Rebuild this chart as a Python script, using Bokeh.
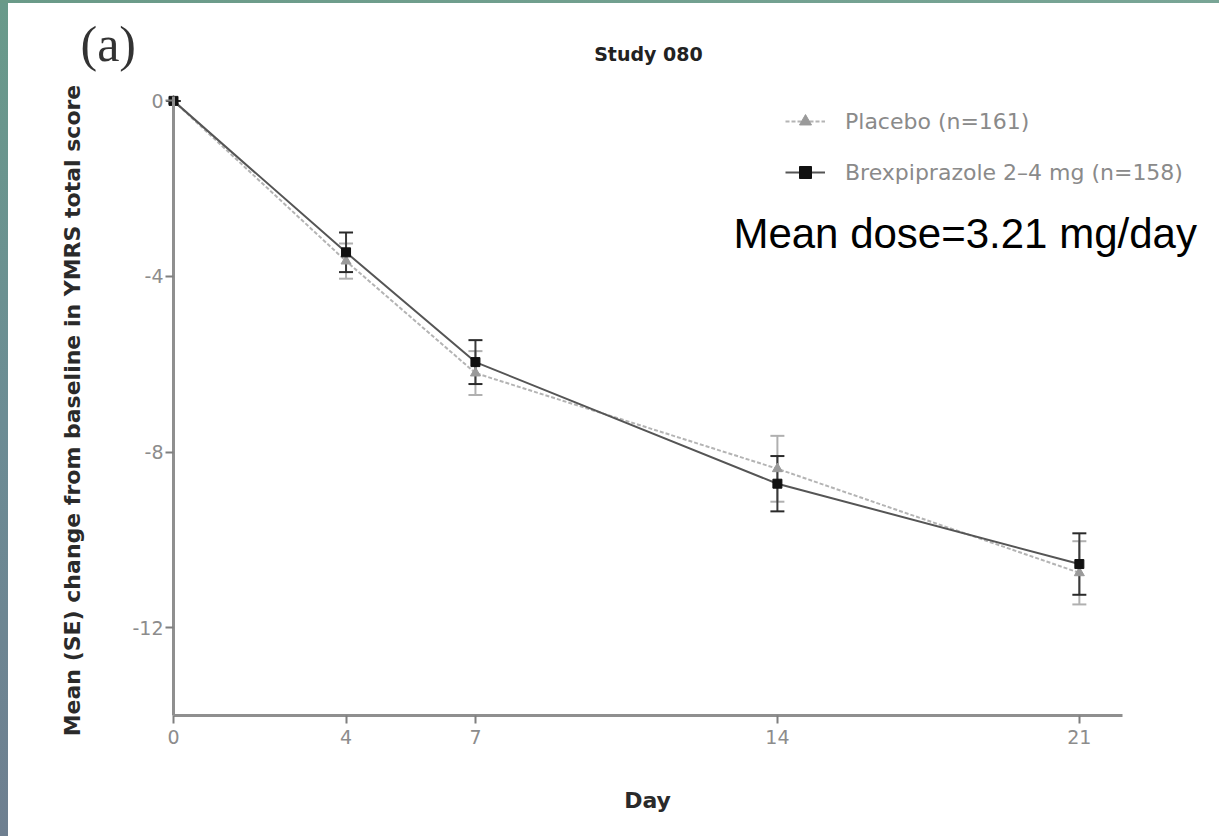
import math
from bokeh.plotting import figure
from bokeh.models import (ColumnDataSource, Whisker, TeeHead, Legend, LegendItem,
                          Label, FixedTicker, Range1d, Div)
from bokeh.layouts import row, column
from bokeh.embed import file_html
from bokeh.resources import INLINE

# ---------------- data ----------------
days = [0, 4, 7, 14, 21]
placebo_mean = [0.0, -3.65, -6.20, -8.38, -10.75]
placebo_se = [0.0, 0.40, 0.50, 0.75, 0.72]
brex_mean = [0.0, -3.45, -5.95, -8.72, -10.55]
brex_se = [0.0, 0.45, 0.50, 0.63, 0.70]

x_ticks = [0, 4, 7, 14, 21]
y_ticks = [0, -4, -8, -12]
y_tick_labels = ["0", "-4", "-8", "-12"]
series_labels = ["Placebo (n=161)", "Brexpiprazole 2\u20134 mg (n=158)"]
title_text = "Study 080"
panel_text = "(a)"
note_text = "Mean dose=3.21 mg/day"
x_title = "Day"
y_title = "Mean (SE) change from baseline in YMRS total score"

# ---------------- figure (frame covers the whole figure) ----------------
FW, FH = 1211, 833
p = figure(width=FW, height=FH,
           x_range=Range1d(-3.825, 24.249), y_range=Range1d(-16.756, 2.218),
           output_backend="svg", toolbar_location=None,
           min_border=0, min_border_left=0, min_border_right=0,
           min_border_top=0, min_border_bottom=0)
p.background_fill_color = "white"
p.border_fill_color = "white"
p.outline_line_color = None
p.xgrid.grid_line_color = None
p.ygrid.grid_line_color = None

p.xaxis.ticker = FixedTicker(ticks=x_ticks)
p.yaxis.ticker = FixedTicker(ticks=y_ticks)
p.yaxis.major_label_overrides = {t: l for t, l in zip(y_ticks, y_tick_labels)}
p.xaxis.fixed_location = -14
p.yaxis.fixed_location = 0
p.xaxis.bounds = (0, 22)
p.yaxis.bounds = (-14, 0.1)

for ax in (p.xaxis[0], p.yaxis[0]):
    ax.axis_line_color = "#8f8f8f"
    ax.axis_line_width = 3
    ax.major_tick_line_color = "#7f7f7f"
    ax.major_tick_line_width = 2
    ax.major_tick_in = 0
    ax.major_tick_out = 8
    ax.minor_tick_line_color = None
    ax.major_label_text_font = "DejaVu Sans"
    ax.major_label_text_font_size = "19px"
    ax.major_label_text_color = "#8c8c8c"

p.xaxis.major_label_standoff = 6
p.yaxis.major_label_standoff = 2

# ---------------- series ----------------
src_p = ColumnDataSource(dict(x=days, y=placebo_mean,
                              lo=[m - s for m, s in zip(placebo_mean, placebo_se)],
                              hi=[m + s for m, s in zip(placebo_mean, placebo_se)]))
src_b = ColumnDataSource(dict(x=days, y=brex_mean,
                              lo=[m - s for m, s in zip(brex_mean, brex_se)],
                              hi=[m + s for m, s in zip(brex_mean, brex_se)]))

pl_line = p.line("x", "y", source=src_p, line_color="#b4b4b4", line_width=2, line_dash="4 2")
p.add_layout(Whisker(base="x", lower="lo", upper="hi", source=src_p,
                     line_color="#b0b0b0", line_width=2,
                     upper_head=TeeHead(size=14, line_color="#b0b0b0", line_width=2),
                     lower_head=TeeHead(size=14, line_color="#b0b0b0", line_width=2)))
pl_mark = p.scatter("x", "y", source=src_p, marker="triangle", size=10,
                    fill_color="#9a9a9a", line_color="#9a9a9a")

br_line = p.line("x", "y", source=src_b, line_color="#555555", line_width=2)
p.add_layout(Whisker(base="x", lower="lo", upper="hi", source=src_b,
                     line_color="#3a3a3a", line_width=2,
                     upper_head=TeeHead(size=14, line_color="#2a2a2a", line_width=2),
                     lower_head=TeeHead(size=14, line_color="#2a2a2a", line_width=2)))
br_mark = p.scatter("x", "y", source=src_b, marker="square", size=9,
                    fill_color="#111111", line_color="#111111")

legend = Legend(items=[LegendItem(label=series_labels[0], renderers=[pl_line, pl_mark]),
                       LegendItem(label=series_labels[1], renderers=[br_line, br_mark])],
                location=(777, 649), orientation="vertical",
                glyph_width=40, glyph_height=30, label_height=30, spacing=21,
                padding=0, margin=0, label_standoff=20,
                border_line_color=None, background_fill_alpha=0,
                label_text_font="DejaVu Sans", label_text_font_size="22px",
                label_text_color="#8a8a8a")
p.add_layout(legend)

# ---------------- text annotations ----------------
p.add_layout(Label(x=-2.156, y=0.669, text=panel_text, text_font="Liberation Serif",
                   text_font_size="50px", text_color="#333333"))
p.add_layout(Label(x=11.01, y=0.806, text=title_text, text_align="center",
                   text_font="DejaVu Sans", text_font_style="bold",
                   text_font_size="19px", text_color="#222222"))
p.add_layout(Label(x=12.98, y=-3.545, text=note_text, text_font="Liberation Sans",
                   text_font_size="42px", text_color="#000000"))
p.add_layout(Label(x=-2.341, y=-7.053, text=y_title, angle=math.pi / 2,
                   text_align="center", text_baseline="middle",
                   text_font="DejaVu Sans", text_font_style="bold",
                   text_font_size="22px", text_color="#2a2a2a"))
p.add_layout(Label(x=10.99, y=-15.936, text=x_title,
                   text_align="center", text_baseline="middle",
                   text_font="DejaVu Sans", text_font_style="bold",
                   text_font_size="22px", text_color="#2a2a2a"))

# ---------------- frame strips ----------------
top = Div(text="", width=1219, height=3, margin=0,
          styles={"background": "linear-gradient(to right, #6a9a88, #79a596)"})
left = Div(text="", width=8, height=FH, margin=0,
           styles={"background": "linear-gradient(to bottom, #699a8a, #6c8c94, #6e7f90)"})
layout = column(top, row(left, p, spacing=0), spacing=0)

open("out.html", "w").write(file_html(layout, INLINE))
